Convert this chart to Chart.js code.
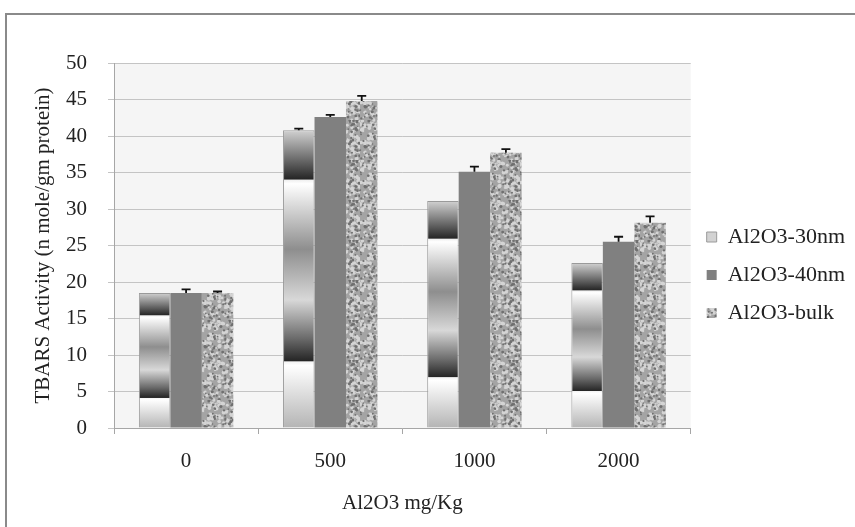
<!DOCTYPE html>
<html>
<head>
<meta charset="utf-8">
<script src="https://cdn.jsdelivr.net/npm/chart.js@4.4.1/dist/chart.umd.min.js"></script>
<style>
  body { margin: 0; background: #fff; }
  #wrap { width: 855px; height: 527px; }
</style>
</head>
<body>
<div id="wrap"><canvas id="chart" width="855" height="527"></canvas></div>
<script>
// Data
const categories = ["0", "500", "1000", "2000"];
const seriesNames = ["Al2O3-30nm", "Al2O3-40nm", "Al2O3-bulk"];
const nm30 = [18.5, 40.8, 31.1, 22.6];
const nm40 = [18.5, 42.6, 35.1, 25.5];
const bulk = [18.5, 44.8, 37.7, 28.1];
// upper error bars
const err30 = [0, 0.2, 0, 0];
const err40 = [0.5, 0.3, 0.7, 0.7];
const errBulk = [0.2, 0.7, 0.5, 0.9];
const yTicks = [0, 5, 10, 15, 20, 25, 30, 35, 40, 45, 50];

Chart.defaults.font.family = "'Liberation Serif', 'Times New Roman', serif";
Chart.defaults.font.size = 21;
Chart.defaults.color = "#222";

// small seeded generator, only used for the speckle texture
let seed = 12345;
function rnd() {
  seed = (seed * 1103515245 + 12345) % 2147483648;
  return seed / 2147483648;
}

// speckled texture for the bulk series
function makeSpeckle() {
  const n = 40;
  const c = document.createElement("canvas");
  c.width = n;
  c.height = n;
  const g = c.getContext("2d");
  g.fillStyle = "#a4a4a4";
  g.fillRect(0, 0, n, n);
  for (let i = 0; i < 150; i++) {
    g.fillStyle = "#d4d4d4";
    g.beginPath();
    g.arc(rnd() * n, rnd() * n, 0.8 + rnd() * 1.2, 0, Math.PI * 2);
    g.fill();
  }
  for (let i = 0; i < 80; i++) {
    g.fillStyle = "#707070";
    g.beginPath();
    g.arc(rnd() * n, rnd() * n, 0.6 + rnd() * 1.0, 0, Math.PI * 2);
    g.fill();
  }
  return g.createPattern(c, "repeat");
}

// striped icon for the 30nm legend entry
function makeStripes() {
  const c = document.createElement("canvas");
  c.width = 4;
  c.height = 3;
  const g = c.getContext("2d");
  g.fillStyle = "#c8c8c8";
  g.fillRect(0, 0, 4, 3);
  g.fillStyle = "#5a5a5a";
  g.fillRect(0, 2, 4, 1);
  return g.createPattern(c, "repeat");
}

const speckle = makeSpeckle();
const stripes = makeStripes();

// metallic banded gradient stretched over each 30nm bar
const chromeStops = [
  [0.0, "#b4b4b4"],
  [0.21, "#ffffff"],
  [0.222, "#f4f4f4"],
  [0.226, "#262626"],
  [0.3, "#6a6a6a"],
  [0.43, "#d8d8d8"],
  [0.6, "#8e8e8e"],
  [0.82, "#ffffff"],
  [0.832, "#f0f0f0"],
  [0.836, "#262626"],
  [1.0, "#d2d2d2"],
];
function chromeFill(ctx) {
  const chart = ctx.chart;
  const y = chart.scales.y;
  if (ctx.type !== "data" || !y) return stripes;
  const base = y.getPixelForValue(0);
  const top = y.getPixelForValue(ctx.raw);
  const grad = chart.ctx.createLinearGradient(0, base, 0, top);
  chromeStops.forEach((s) => grad.addColorStop(s[0], s[1]));
  return grad;
}

// white page, grey plot background and outer frame
const backdrop = {
  id: "backdrop",
  beforeDraw(chart) {
    const { ctx, chartArea } = chart;
    ctx.save();
    ctx.fillStyle = "#fff";
    ctx.fillRect(0, 0, chart.width, chart.height);
    ctx.fillStyle = "#f5f5f5";
    ctx.fillRect(chartArea.left, chartArea.top, chartArea.right - chartArea.left, chartArea.bottom - chartArea.top);
    ctx.strokeStyle = "#8a8a8a";
    ctx.lineWidth = 2;
    ctx.strokeRect(6, 14, 900, 600);
    ctx.restore();
  },
};

// upper error bars with caps
const errorBars = {
  id: "errorBars",
  afterDatasetsDraw(chart) {
    const { ctx } = chart;
    const y = chart.scales.y;
    ctx.save();
    ctx.strokeStyle = "#111";
    ctx.lineWidth = 1.8;
    chart.data.datasets.forEach((ds, di) => {
      const meta = chart.getDatasetMeta(di);
      meta.data.forEach((bar, i) => {
        const e = ds.errors[i];
        if (!e) return;
        const y0 = y.getPixelForValue(ds.data[i]);
        const y1 = y.getPixelForValue(ds.data[i] + e);
        ctx.beginPath();
        ctx.moveTo(bar.x, y0);
        ctx.lineTo(bar.x, y1);
        ctx.moveTo(bar.x - 4.5, y1);
        ctx.lineTo(bar.x + 4.5, y1);
        ctx.stroke();
      });
    });
    ctx.restore();
  },
};

new Chart(document.getElementById("chart"), {
  type: "bar",
  data: {
    labels: categories,
    datasets: [
      {
        label: seriesNames[0],
        data: nm30,
        errors: err30,
        backgroundColor: chromeFill,
        borderColor: "#9a9a9a",
        borderWidth: 1,
      },
      {
        label: seriesNames[1],
        data: nm40,
        errors: err40,
        backgroundColor: "#808080",
        borderWidth: 0,
      },
      {
        label: seriesNames[2],
        data: bulk,
        errors: errBulk,
        backgroundColor: speckle,
        borderWidth: 0,
      },
    ],
  },
  options: {
    responsive: false,
    animation: false,
    layout: { padding: { left: 27, top: 63, right: 0, bottom: 0 } },
    datasets: {
      bar: { categoryPercentage: 0.655, barPercentage: 1.0 },
    },
    plugins: {
      tooltip: { enabled: false },
      legend: {
        position: "right",
        fullSize: false,
        title: { display: true, text: "", font: { size: 22 }, padding: { top: 0, bottom: 32.6 } },
        labels: {
          boxWidth: 10,
          boxHeight: 10,
          padding: 16,
          font: { size: 22 },
          color: "#222",
        },
      },
    },
    scales: {
      x: {
        afterFit: (scale) => {
          scale.height = 99;
        },
        grid: {
          offset: true,
          drawOnChartArea: false,
          tickLength: 6,
          color: "#a6a6a6",
        },
        border: { color: "#a6a6a6" },
        ticks: { padding: 15, color: "#222" },
        title: {
          display: true,
          text: "Al2O3 mg/Kg",
          color: "#222",
          padding: { top: 2, bottom: 11 },
        },
      },
      y: {
        min: 0,
        max: 50,
        afterBuildTicks: (axis) => {
          axis.ticks = yTicks.map((v) => ({ value: v }));
        },
        afterFit: (scale) => {
          scale.width = 87;
        },
        grid: { color: "#c4c4c4", tickLength: 6 },
        border: { color: "#a6a6a6" },
        ticks: { padding: 21, color: "#222" },
        title: {
          display: true,
          text: "TBARS Activity (n mole/gm protein)",
          color: "#222",
          padding: { top: 4, bottom: 4 },
        },
      },
    },
  },
  plugins: [backdrop, errorBars],
});
</script>
</body>
</html>
